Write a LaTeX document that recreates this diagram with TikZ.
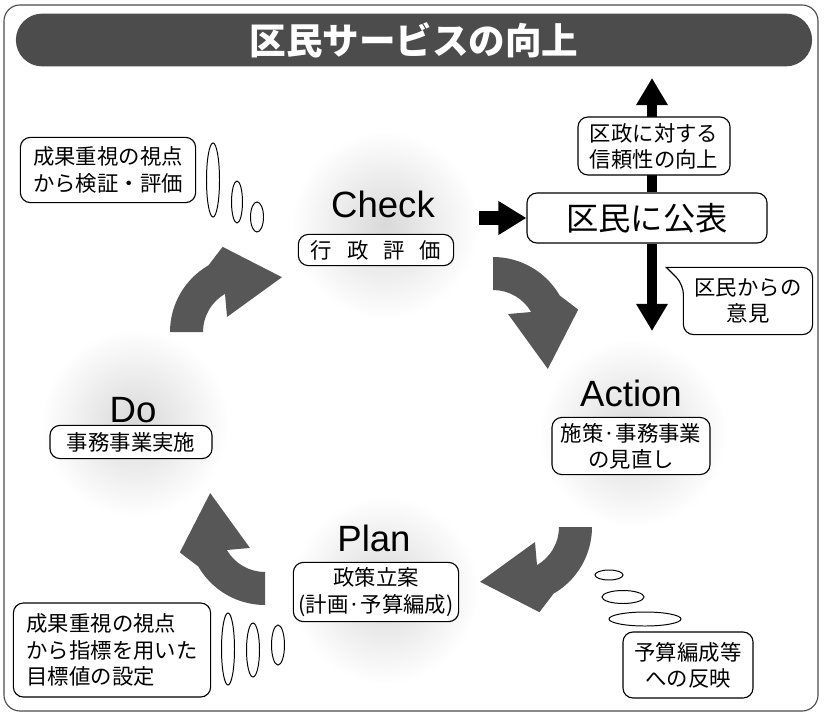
\documentclass[tikz,border=0pt]{standalone}
\usepackage{fontspec}
\setmainfont{Liberation Sans}
\newfontfamily\jpfont{Noto Sans CJK JP}
\usetikzlibrary{arrows.meta}

\begin{document}
\begin{tikzpicture}[x=0.025cm,y=-0.025cm,
  banner/.style={fill=black!70, text=white, rounded corners=0.66cm, minimum width=19.9cm, minimum height=1.32cm, font=\jpfont\bfseries\fontsize{26pt}{30pt}\selectfont},
  spot/.style={circle, minimum size=4.7cm, inner color=black!15, outer color=white},
  stage/.style={inner sep=0pt, font=\fontsize{26pt}{30pt}\selectfont},
  tag/.style={draw, fill=white, rounded corners=0.25cm, line width=0.8pt, align=center, inner sep=0pt, font=\jpfont\fontsize{15.2pt}{18.6pt}\selectfont},
  turn/.style={fill=black!66},
  push/.style={line width=0.35cm, -{Triangle[length=0.7cm,width=0.8cm]}},
  lift/.style={line width=0.25cm, -{Triangle[length=0.68cm,width=0.75cm]}},
  puff/.style={draw, fill=white, line width=0.7pt}]
  \useasboundingbox (0,0) rectangle (826,716);
  \draw[black!70, line width=0.8pt, rounded corners=0.4cm] (4,5) rectangle (818,711);
  \node[banner] (title) at (414,40) {区民サービスの向上};
  \node[spot] (checkc) at (385,225) {};
  \node[spot] (doc) at (135,423) {};
  \node[spot] (actionc) at (633,433) {};
  \node[spot] (planc) at (385,590) {};
  \foreach \cx/\cy/\r in {247/332/0,493/334/90,515/527/180,265/528/270}
    \fill[turn] (\cx,\cy) ++(180+\r:77) arc[start angle=180+\r, end angle=240+\r, radius=77]
      -- ([shift={(\cx,\cy)}]254+\r:88.6) -- ([shift={(\cx,\cy)}]302.5+\r:65)
      -- ([shift={(\cx,\cy)}]217+\r:25) -- ([shift={(\cx,\cy)}]240+\r:44)
      arc[start angle=240+\r, end angle=180+\r, radius=44] -- cycle;
  \node[stage] (checkt) at (383,204) {Check};
  \node[tag, minimum width=3.88cm, minimum height=0.78cm] (checkb) at (376,250) {行\hspace{.7em}政\hspace{.7em}評\hspace{.7em}価};
  \node[stage] (dot) at (133,410) {Do};
  \node[tag, minimum width=4.05cm, minimum height=0.83cm] (dob) at (131,442) {事務事業実施};
  \node[stage] (actiont) at (631,393) {Action};
  \node[tag, minimum width=3.95cm, minimum height=1.43cm] (actionb) at (631,446) {施策·事務事業\\の見直し};
  \node[stage] (plant) at (374,538) {Plan};
  \node[tag, minimum width=4.13cm, minimum height=1.48cm] (planb) at (376,592) {政策立案\\(計画·予算編成)};
  \node[tag, minimum width=4.38cm, minimum height=1.63cm] (kensho) at (108,170) {成果重視の視点\\から検証・評価};
  \node[tag, align=left, minimum width=4.93cm, minimum height=2.35cm] (shihyo) at (112,650) {成果重視の視点\\から指標を用いた\\目標値の設定};
  \node[tag, minimum width=3.25cm, minimum height=1.65cm] (hanei) at (688,665) {予算編成等\\への反映};
  \node[tag, minimum width=6cm, minimum height=1.25cm, font=\jpfont\fontsize{23pt}{26pt}\selectfont] (kohyo) at (647,218) {区民に公表};
  \coordinate (up) at (652,78);
  \coordinate (down) at (652,331);
  \draw[push] (checkc.east |- kohyo.west) -- (kohyo.west);
  \draw[lift] (kohyo.north -| up) -- (up);
  \draw[lift] (kohyo.south -| down) -- (down);
  \node[tag, minimum width=3.8cm, minimum height=1.45cm] (shinrai) at (654,146) {区政に対する\\信頼性の向上};
  \node[tag, draw=none, fill=none, minimum width=3.2cm, minimum height=1.65cm] (iken) at (748,301) {区民からの\\意見};
  \draw[line width=0.8pt] ([shift={(0,17)}]iken.north west) -- ([shift={(-17,0)}]iken.north west) -- (iken.north)
    [rounded corners=0.25cm] -- (iken.north east) -- (iken.south east) -- (iken.south west) -- cycle;
  \foreach \x/\y/\a/\b in {213/180/6.5/37,237/202/5.5/21,257/217/6.5/15,228/649/6.5/36,253/650/6.5/27,278/645/6.5/20,609/575/14/5,623/597/21/6.5,645/619/36/7}
    \draw[puff] (\x,\y) ellipse [x radius=\a, y radius=\b];
\end{tikzpicture}
\end{document}
